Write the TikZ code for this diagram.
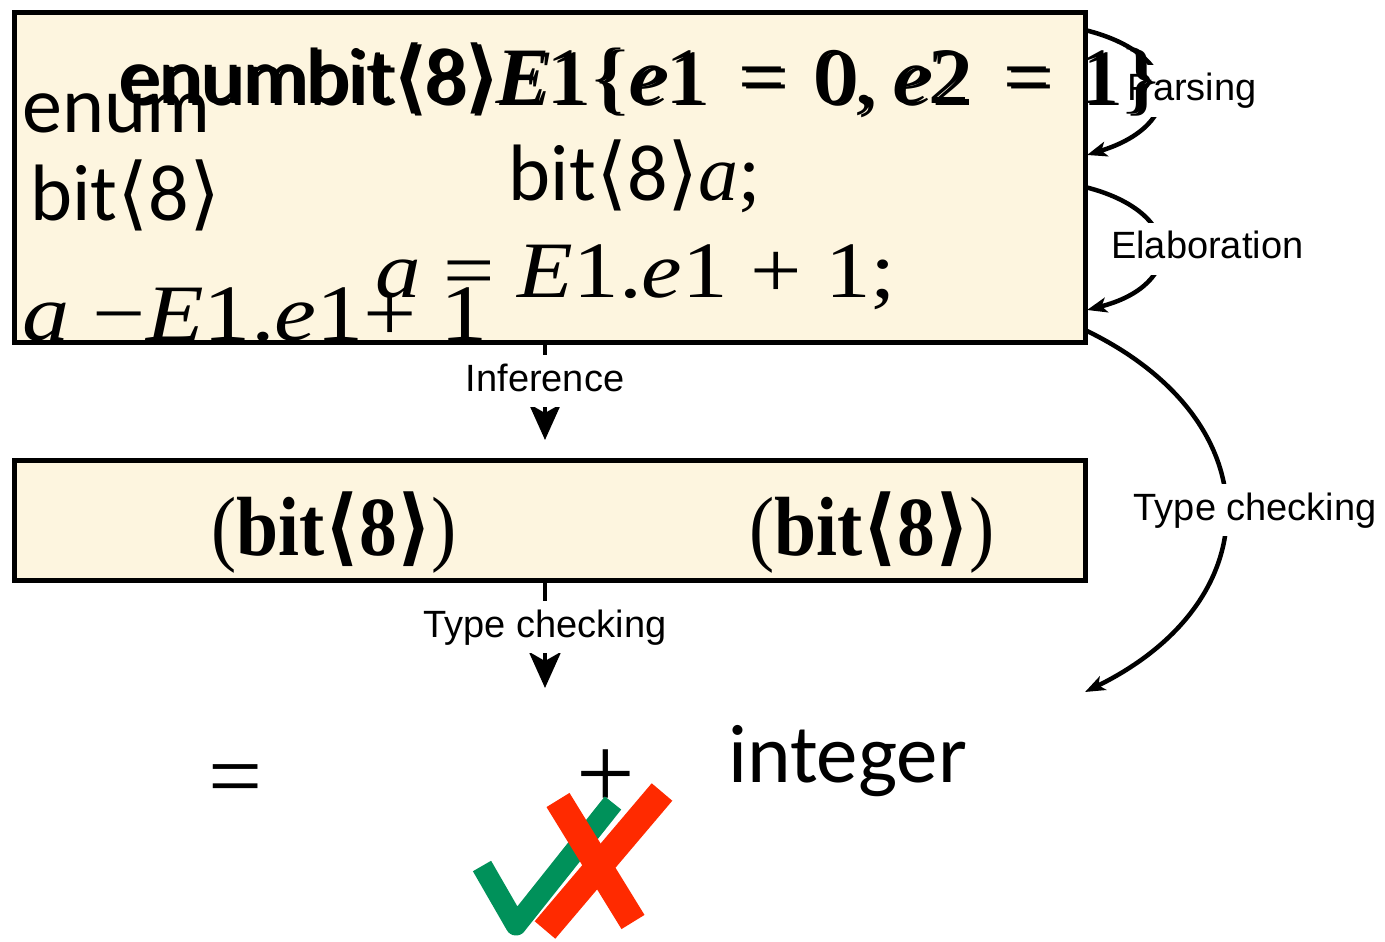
\documentclass[tikz,border=0pt]{standalone}
\usepackage{fontspec}
\usepackage{graphicx}
\newfontfamily\carl{Carlito}
\newfontfamily\arl{Liberation Sans}
\newfontfamily\ser{Liberation Serif}
\newfontfamily\djv{DejaVu Sans}
\newcommand\mi[1]{{\ser\itshape #1}}
\newcommand\up[1]{{\ser #1}}
\newcommand\lan{{\djv ⟨}}
\newcommand\ran{{\djv ⟩}}
\newcommand\gapx[1]{\hspace{#1em}}
\newcommand\topline{{\carl enumbit}\lan{\carl 8}\ran\scalebox{1.04}[1]{\mi{E}\up{1\{}\mi{e}\up{1}\gapx{0.38}\up{=}\gapx{0.33}\up{0,}\gapx{0.2}\mi{e}\up{2}\gapx{0.4}\up{=}\gapx{0.33}\up{1\}}}}
\newcommand\boldbit{\scalebox{0.9}[1]{\up{\mdseries(}\up{bit}{\djv\bfseries ⟨}\up{8}{\djv\bfseries ⟩}\up{\mdseries)}}}
\usetikzlibrary{arrows.meta}
\definecolor{cream}{HTML}{FDF5DF}
\definecolor{chk}{HTML}{00915A}
\definecolor{crs}{HTML}{FF2A00}
\begin{document}
\begin{tikzpicture}[x=1pt,y=-1pt,
  box/.style={draw=black,line width=5pt,fill=cream,inner sep=0pt,anchor=north west},
  big/.style={inner sep=0pt,anchor=base west,font=\fontsize{80}{90}\selectfont},
  bigc/.style={inner sep=0pt,anchor=base,font=\fontsize{80}{90}\selectfont},
  bold/.style={inner sep=0pt,anchor=base,font=\fontsize{84}{90}\selectfont\bfseries},
  lab/.style={fill=white,inner xsep=3pt,inner ysep=8pt,text height=28pt,text depth=8pt,font=\arl\fontsize{38}{40}\selectfont},
  conn/.style={line width=4.5pt},
  bigtip/.style={-{Stealth[length=36pt,width=32pt,inset=9pt]}},
  smalltip/.style={-{Stealth[length=20pt,width=15pt,inset=5pt]}}]
\fill[white] (0,0) rectangle (1385,942);
\useasboundingbox (0,0) rectangle (1385,942);
% boxes
\node[box,minimum width=1071pt,minimum height=330pt] (b1) at (12,10) {};
\node[box,minimum width=1071pt,minimum height=120pt] (b2) at (12,458) {};
% coordinates
\coordinate (i1) at (545,340);
\coordinate (i2) at (545,440);
\coordinate (t1) at (545,578);
\coordinate (t2) at (545,688);
\coordinate (p1) at (1085,30);
\coordinate (p2) at (1087,155);
\coordinate (e1) at (1085,187);
\coordinate (e2) at (1087,310);
\coordinate (c1) at (1085,330);
\coordinate (c2) at (1085,692);
% connectors
\draw[conn,bigtip] (i1) -- node[lab,yshift=9pt]{Inference} (i2);
\draw[conn,bigtip] (t1) -- node[lab,yshift=6pt]{Type checking} (t2);
\draw[conn,smalltip] (p1) .. controls (1185,55) and (1185,125) .. node[lab,xshift=32pt]{Parsing} (p2);
\draw[conn,smalltip] (e1) .. controls (1185,212) and (1185,285) .. node[lab,xshift=47pt]{Elaboration} (e2);
\draw[conn,smalltip] (c1) .. controls (1272,420) and (1272,600) .. node[lab,xshift=30pt]{Type checking} (c2);
% box 1 texts
\node[big] (h1) at (118,103) {\topline};
\node[big] (h2) at (122,106) {\topline};
\node[big] (en) at (22,132) {\carl enum};
\node[big] (bt) at (30,220) {{\carl bit}\lan{\carl 8}\ran};
\node[bigc] (ba) at (635,200) {{\carl bit}\lan{\carl 8}\ran\mi{a}\up{;}};
\node[big] (as) at (375,297) {\scalebox{1.14}[1]{\mi{a}\up{ = }\mi{E}\up{1.}\mi{e}\up{1 + 1;}}};
\node[big] (ae) at (22,340) {\scalebox{1.18}[1]{\mi{a}\up{ −}\mi{E}\up{1.}\mi{e}\up{1+ 1}}};
% box 2 texts
\node[bold] (l1) at (334,555) {\boldbit};
\node[bold] (l2) at (872,555) {\boldbit};
% bottom row
\node[bigc,font=\fontsize{96}{100}\selectfont] (eq) at (236,808) {\up{=}};
\node[bigc,font=\fontsize{104}{110}\selectfont] (pl) at (606,808) {\up{+}};
\node[big,font=\fontsize{83}{90}\selectfont] (in) at (728,782) {\carl integer};
% check and cross
\draw[chk,line width=21pt,line join=round] (482,866) -- (516,925) -- (613,803);
\draw[crs,line width=27pt] (558,800) -- (633,922);
\draw[crs,line width=27pt] (662,792) -- (545,930);
\end{tikzpicture}
\end{document}
